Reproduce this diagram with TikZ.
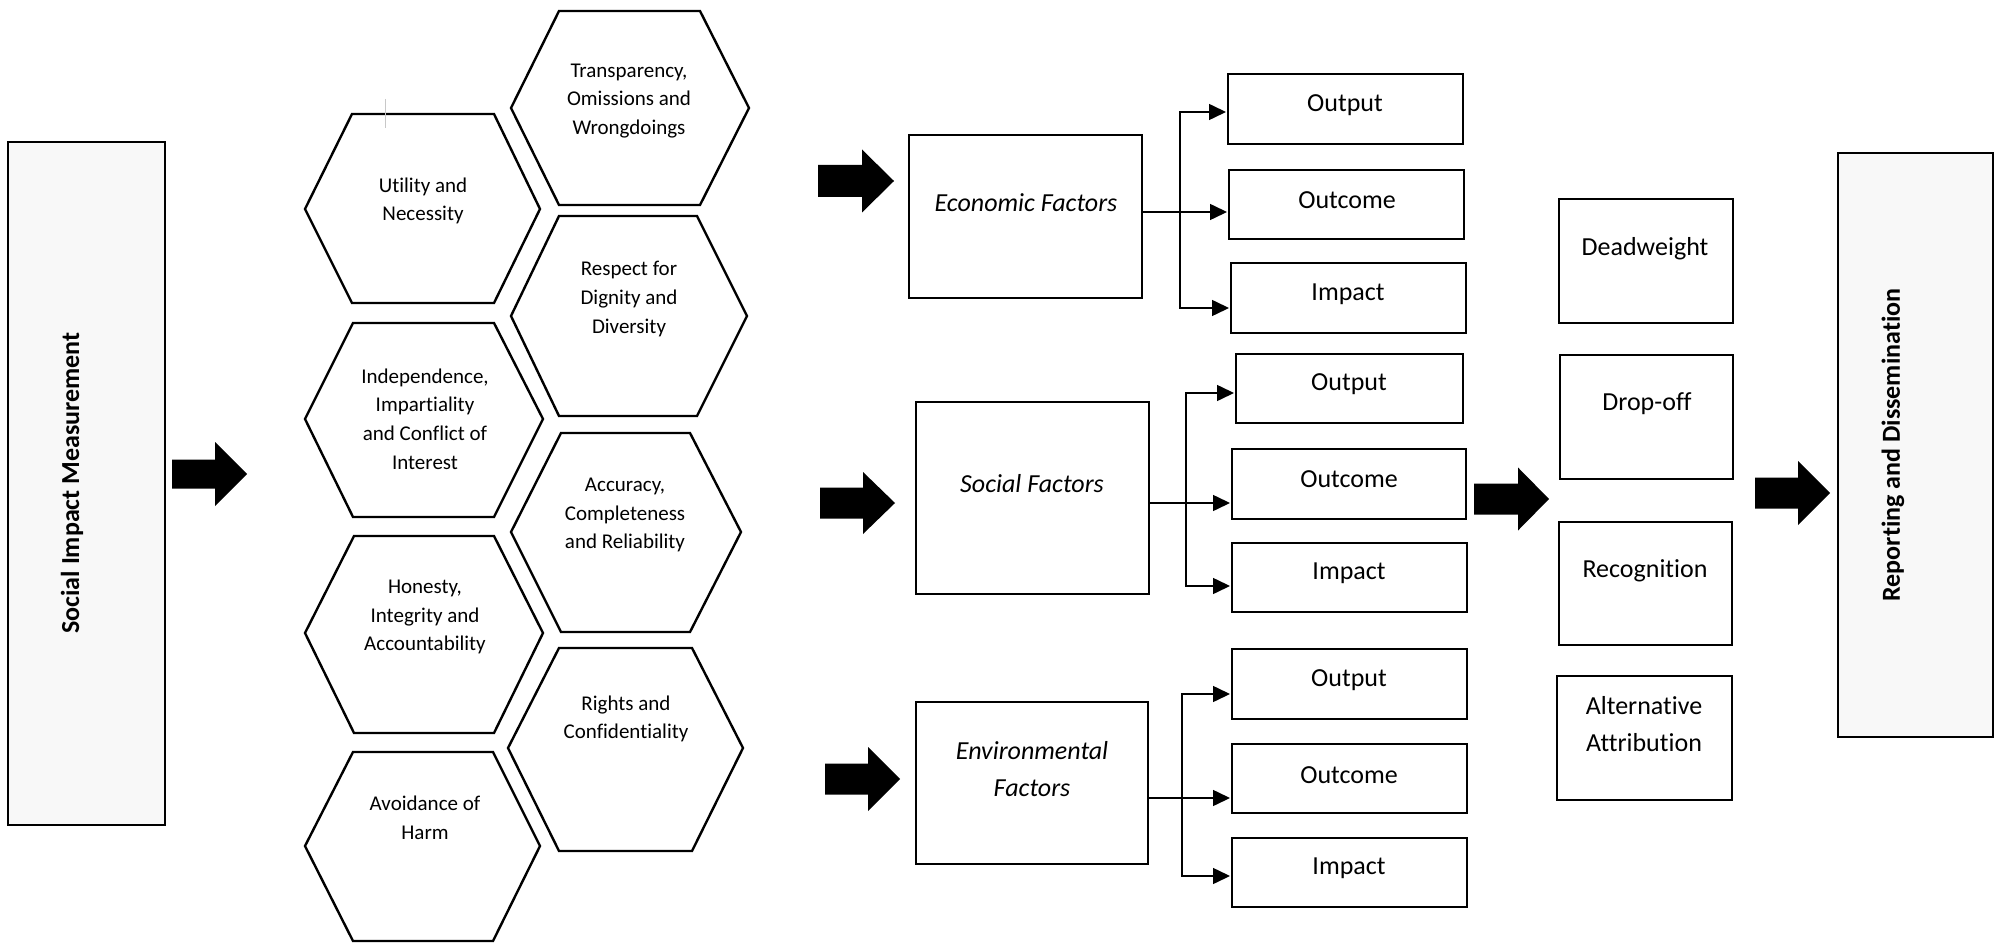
\documentclass[tikz,border=0pt]{standalone}
\usepackage{fontspec}
\setmainfont{Carlito}[Ligatures={NoCommon,NoRare}]
\usetikzlibrary{arrows.meta}
\definecolor{sidefill}{HTML}{F8F8F8}
\definecolor{cursorgray}{HTML}{C8C8C8}
\tikzset{
  boxline/.style={draw=black, line width=1.4pt, inner sep=0pt, outer sep=0pt, rectangle},
  sidebox/.style={boxline, fill=sidefill},
  hexline/.style={draw=black, line width=1.2pt, line join=miter},
  boxtext/.style={font=\fontsize{13}{18.5}\selectfont, align=center, inner sep=0pt},
  factortext/.style={font=\fontsize{13}{18.5}\selectfont\itshape, align=center, inner sep=0pt},
  hextext/.style={font=\fontsize{10.5}{14.3}\selectfont, align=center, inner sep=0pt},
  sidetext/.style={font=\fontsize{13}{16}\selectfont\bfseries, rotate=90, inner sep=0pt},
  conn/.style={draw=black, line width=0.75pt, -{Triangle[length=8.5pt,width=8pt]}, shorten >=1pt},
  blockarrow/.style={fill=black},
}
% name, x1, y1, x2, y2, style
\newcommand\boxat[6]{%
  \node[#6, minimum width={(#4-#2)*0.5pt}, minimum height={(#5-#3)*0.5pt}] (#1) at ({(#2+#4)/2},{(#3+#5)/2}) {};}
% L, TL, TR, R, top, mid, bottom
\newcommand\hexa[7]{%
  \draw[hexline] (#1,#6) -- (#2,#5) -- (#3,#5) -- (#4,#6) -- (#3,#7) -- (#2,#7) -- cycle;}
% x0, xh, tip, ymid, shaft half, head half
\newcommand\barrow[6]{%
  \fill[blockarrow] (#1,{#4-#5}) -- (#2,{#4-#5}) -- (#2,{#4-#6}) -- (#3,#4) -- (#2,{#4+#6}) -- (#2,{#4+#5}) -- (#1,{#4+#5}) -- cycle;}
\begin{document}
\begin{tikzpicture}[x=0.5pt,y=-0.5pt]
\useasboundingbox (0,0) rectangle (2000,946);

% side boxes
\boxat{sim}{8}{142}{165}{825}{sidebox}
\node[sidetext] (tsim) at (72,483) {Social Impact Measurement};
\boxat{rep}{1838}{153}{1993}{737}{sidebox}
\node[sidetext] (trep) at (1893,445) {Reporting and Dissemination};

% block arrows
\barrow{172}{215}{247}{474}{14.5}{32}
\barrow{818}{862}{894}{181}{16}{31.5}
\barrow{820}{863}{895}{503}{15.5}{31}
\barrow{825}{868}{900}{779}{15.5}{32}
\barrow{1474}{1518}{1549}{499}{15.5}{31.5}
\barrow{1755}{1798}{1830}{493}{15.5}{32}

% hexagons
\hexa{511}{559}{700}{749}{11}{108}{205}
\node[hextext] (h1) at (629,101) {Transparency,\\Omissions and\\Wrongdoings};
\hexa{305}{352}{494}{540}{114}{209}{303}
\node[hextext] (h2) at (423,201) {Utility and\\Necessity};
\hexa{511}{559}{697}{747}{216}{316}{416}
\node[hextext] (h3) at (629,299) {Respect for\\Dignity and\\Diversity};
\hexa{305}{353}{494}{543}{323}{419}{517}
\node[hextext] (h4) at (425,419) {Independence,\\Impartiality\\and Conflict of\\Interest};
\hexa{511}{561}{690}{741}{433}{532}{632}
\node[hextext] (h5) at (625,515) {Accuracy,\\Completeness\\and Reliability};
\hexa{305}{354}{494}{543}{536}{633}{733}
\node[hextext] (h6) at (425,617) {Honesty,\\Integrity and\\Accountability};
\hexa{508}{559}{692}{743}{648}{748}{851}
\node[hextext] (h7) at (626,719) {Rights and\\Confidentiality};
\hexa{305}{353}{493}{540}{752}{846}{941}
\node[hextext] (h8) at (425,818) {Avoidance of\\Harm};
\draw[cursorgray, line width=0.5pt] (385,99) -- (385,128);

% factor boxes
\boxat{eco}{909}{135}{1142}{298}{boxline}
\node[factortext] (teco) at (1026,203) {Economic Factors};
\boxat{soc}{916}{402}{1149}{594}{boxline}
\node[factortext] (tsoc) at (1032,484) {Social Factors};
\boxat{env}{916}{702}{1148}{864}{boxline}
\node[factortext] (tenv) at (1032,769) {Environmental\\Factors};

% output / outcome / impact boxes
\boxat{eo1}{1228}{74}{1463}{144}{boxline}
\node[boxtext] (teo1) at (1345,105) {Output};
\boxat{eo2}{1229}{170}{1464}{239}{boxline}
\node[boxtext] (teo2) at (1347,200) {Outcome};
\boxat{eo3}{1231}{263}{1466}{333}{boxline}
\node[boxtext] (teo3) at (1348,294) {Impact};
\boxat{so1}{1236}{354}{1463}{423}{boxline}
\node[boxtext] (tso1) at (1349,384) {Output};
\boxat{so2}{1232}{449}{1466}{519}{boxline}
\node[boxtext] (tso2) at (1349,479) {Outcome};
\boxat{so3}{1232}{543}{1467}{612}{boxline}
\node[boxtext] (tso3) at (1349,573) {Impact};
\boxat{vo1}{1232}{649}{1467}{719}{boxline}
\node[boxtext] (tvo1) at (1349,680) {Output};
\boxat{vo2}{1232}{744}{1467}{813}{boxline}
\node[boxtext] (tvo2) at (1349,775) {Outcome};
\boxat{vo3}{1232}{838}{1467}{907}{boxline}
\node[boxtext] (tvo3) at (1349,868) {Impact};

% adjustment boxes
\boxat{dw}{1559}{199}{1733}{323}{boxline}
\node[boxtext] (tdw) at (1645,249) {Deadweight};
\boxat{do}{1560}{355}{1733}{479}{boxline}
\node[boxtext] (tdo) at (1647,404) {Drop-off};
\boxat{rc}{1559}{522}{1732}{645}{boxline}
\node[boxtext] (trc) at (1645,571) {Recognition};
\boxat{aa}{1557}{676}{1732}{800}{boxline}
\node[boxtext] (taa) at (1644,724) {Alternative\\Attribution};

% connectors: economic
\coordinate (ej) at (1180,212);
\coordinate (ej1) at (1180,112);
\coordinate (ej3) at (1180,308);
\draw[conn] (eco.east |- ej) -- (eo2.west |- ej);
\draw[conn] (ej) -- (ej1) -- (eo1.west |- ej1);
\draw[conn] (ej) -- (ej3) -- (eo3.west |- ej3);
% connectors: social
\coordinate (sj) at (1186,503);
\coordinate (sj1) at (1186,393);
\coordinate (sj3) at (1186,586);
\draw[conn] (soc.east |- sj) -- (so2.west |- sj);
\draw[conn] (sj) -- (sj1) -- (so1.west |- sj1);
\draw[conn] (sj) -- (sj3) -- (so3.west |- sj3);
% connectors: environmental
\coordinate (vj) at (1182,798);
\coordinate (vj1) at (1182,694);
\coordinate (vj3) at (1182,876);
\draw[conn] (env.east |- vj) -- (vo2.west |- vj);
\draw[conn] (vj) -- (vj1) -- (vo1.west |- vj1);
\draw[conn] (vj) -- (vj3) -- (vo3.west |- vj3);
\end{tikzpicture}
\end{document}
